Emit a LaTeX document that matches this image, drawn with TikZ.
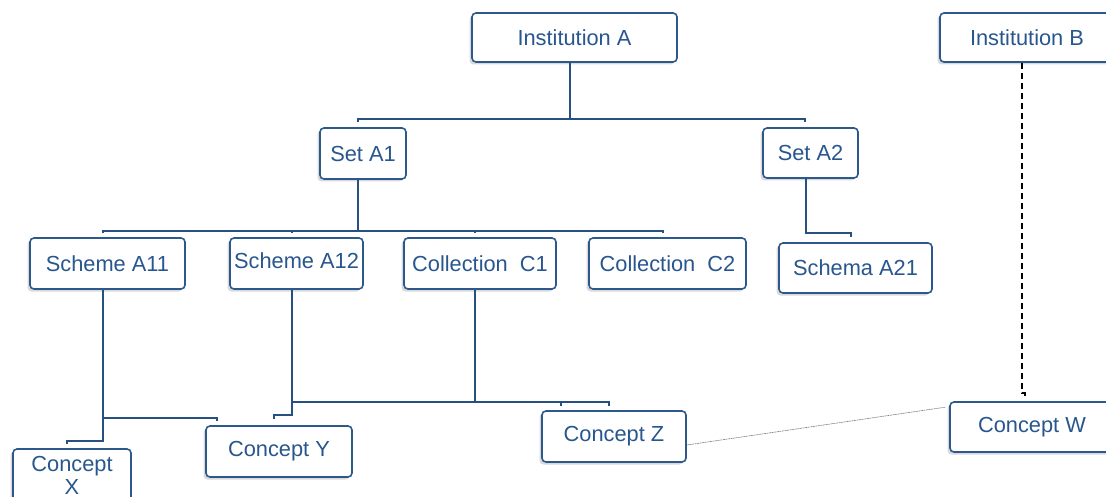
\documentclass[tikz,border=0pt]{standalone}
\usepackage{fontspec}
\setmainfont{Liberation Sans}
\usetikzlibrary{shadows}
\definecolor{boxblue}{RGB}{44,88,140}
\definecolor{txtblue}{RGB}{40,86,142}
\definecolor{lineblue}{RGB}{38,80,130}
\begin{document}
\begin{tikzpicture}[x=1pt,y=-1pt,
  cbox/.style={draw=boxblue, line width=1.6pt, rounded corners=4pt, fill=white,
    text=txtblue, inner sep=0pt, align=center,
    font=\fontsize{21.8}{23}\selectfont,
    drop shadow={shadow xshift=-2.5pt, shadow yshift=-2.5pt, opacity=0.15, fill=black}},
  conn/.style={draw=lineblue, line width=1.8pt},
  dsh/.style={draw=black, line width=1.8pt, dash pattern=on 6pt off 4pt},
  fine/.style={draw=gray, line width=0.6pt, dash pattern=on 2pt off 0.6pt}]
\useasboundingbox (0,0) rectangle (1106,497);
\clip (0,0) rectangle (1106,497);

\node[cbox, minimum width=205pt, minimum height=49pt] (instA) at (574.5,37.5) {Institution A};
\node[cbox, minimum width=174pt, minimum height=49pt] (instB) at (1027,37.5) {Institution B};
\node[cbox, minimum width=86pt, minimum height=51pt] (setA1) at (363,153.5) {Set A1};
\node[cbox, minimum width=95pt, minimum height=50pt] (setA2) at (810.5,153) {Set A2};
\node[cbox, minimum width=155pt, minimum height=51pt] (sA11) at (107.5,263.5) {Scheme A11};
\node[cbox, minimum width=133pt, minimum height=51pt, text depth=6pt] (sA12) at (296.5,263.5) {Scheme A12};
\node[cbox, minimum width=152pt, minimum height=51pt] (cC1) at (480,263.5) {Collection\ \ C1};
\node[cbox, minimum width=157pt, minimum height=51pt] (cC2) at (667.5,263.5) {Collection\ \ C2};
\node[cbox, minimum width=153pt, minimum height=50pt] (sA21) at (855.5,268) {Schema A21};
\node[cbox, minimum width=118pt, minimum height=52pt] (cX) at (72,475) {Concept\\X};
\node[cbox, minimum width=146pt, minimum height=51pt] (cY) at (279,451.5) {Concept Y};
\node[cbox, minimum width=144pt, minimum height=51pt] (cZ) at (614,436.5) {Concept Z};
\node[cbox, minimum width=164pt, minimum height=50pt] (cW) at (1032,427) {Concept W};

% Institution A -> sets
\coordinate (aS) at ([xshift=-4.5pt]instA.south);
\coordinate (busA) at ([yshift=-56pt]aS);
\coordinate (tA1) at ([xshift=-5pt,yshift=5pt]setA1.north);
\coordinate (tA2) at ([xshift=-5.5pt,yshift=5pt]setA2.north);
\draw[conn] (aS) -- (busA);
\draw[conn] (tA1) |- (busA) -| (tA2);

% Set A1 -> schemes / collections
\coordinate (s1S) at ([xshift=-5pt]setA1.south);
\coordinate (busB) at ([yshift=-51pt]s1S);
\coordinate (t11) at ([xshift=-4.5pt,yshift=4pt]sA11.north);
\coordinate (t12) at ([xshift=-4.5pt,yshift=4pt]sA12.north);
\coordinate (tC1) at ([xshift=-5pt,yshift=4pt]cC1.north);
\coordinate (tC2) at ([xshift=-4.5pt,yshift=4pt]cC2.north);
\draw[conn, line width=2.4pt] (s1S) -- (busB);
\draw[conn] (t11) |- (busB) -| (tC2);
\draw[conn] (t12) -- (t12 |- busB);
\draw[conn] (tC1) -- (tC1 |- busB);

% Set A2 -> Schema A21
\draw[conn] ([xshift=-4.5pt]setA2.south) |- ([xshift=-4.5pt,yshift=9pt]sA21.north) -- ([xshift=-4.5pt,yshift=5pt]sA21.north);

% Scheme A11 -> Concept X, Concept Y
\coordinate (a11S) at ([xshift=-4.5pt]sA11.south);
\draw[conn] (a11S) |- ([xshift=-5pt,yshift=7pt]cX.north) -- ([xshift=-5pt,yshift=4pt]cX.north);
\coordinate (yA) at ([xshift=12pt,yshift=7pt]cY.north west);
\draw[conn] ([xshift=12pt,yshift=4pt]cY.north west) -- (yA) -- (yA -| a11S);

% Scheme A12 -> Concept Y
\draw[conn] ([xshift=-4.5pt]sA12.south) |- ([xshift=-5pt,yshift=10pt]cY.north) -- ([xshift=-5pt,yshift=6pt]cY.north);

% Collection C1 -> Concept Z
\coordinate (c1S) at ([xshift=-5pt]cC1.south);
\coordinate (busC) at ([xshift=-5pt,yshift=8pt]cZ.north);
\coordinate (tZ) at ([xshift=-5pt,yshift=4pt]cZ.north);
\coordinate (tZ2) at ([xshift=-53pt,yshift=4pt]cZ.north);
\draw[conn] (c1S) -- (c1S |- busC);
\draw[conn] (t12 |- busC) -- (busC) -- (tZ);
\draw[conn] (tZ2) -- (tZ2 |- busC);

% Institution B -> Concept W (dashed)
\coordinate (bS) at ([xshift=-5pt]instB.south);
\coordinate (wT) at ([xshift=-7pt,yshift=3pt]cW.north);
\draw[dsh] (bS) |- ([yshift=5pt]wT) -- (wT);

% Concept Z -- Concept W (fine grey)
\draw[fine] ([yshift=-8.5pt]cZ.east) -- ([xshift=-4pt,yshift=-6pt]cW.north west);
\end{tikzpicture}
\end{document}
